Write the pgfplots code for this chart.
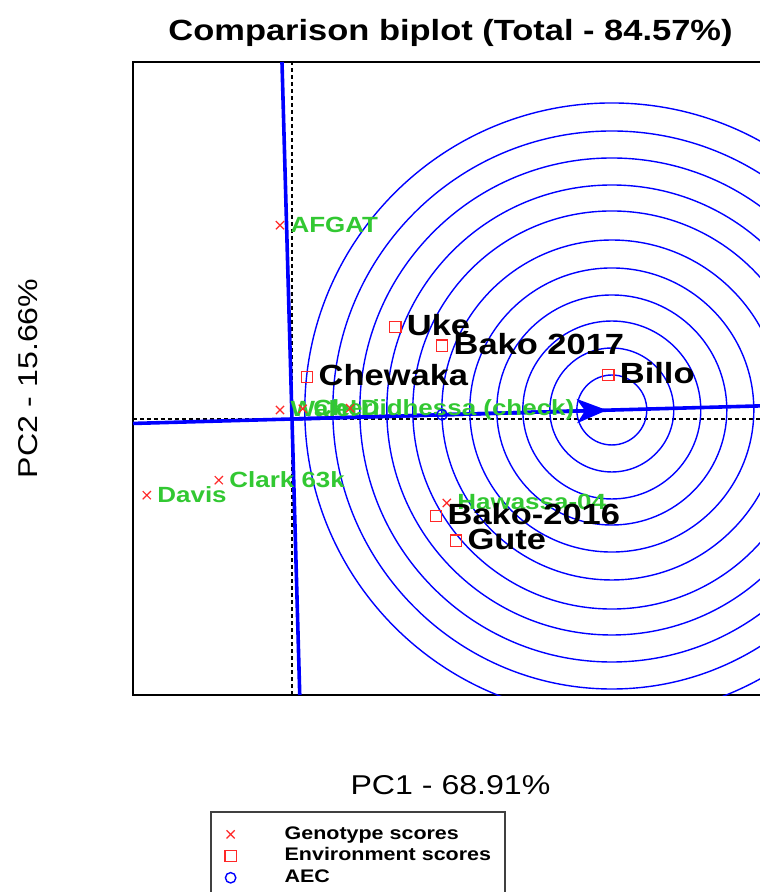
\documentclass[border=0pt]{standalone}
\usepackage{fontspec}
\setmainfont{Liberation Sans}[FakeStretch=1.18]
\usepackage{pgfplots}
\usepackage{pgfplotstable}
\pgfplotsset{compat=1.18}
\usetikzlibrary{arrows.meta}
\definecolor{gcol}{RGB}{50,200,50}
\definecolor{mred}{RGB}{255,40,40}

% Genotype scores
\pgfplotstableread[col sep=comma]{
x,y,label
-0.20,3.23,AFGAT
-2.42,-1.27,Davis
-1.22,-1.02,Clark 63k
-0.20,0.15,Walel
0.18,0.17,Cheri
0.97,0.18,Didhessa (check)
2.58,-1.40,Hawassa-04
}\genotypes

% Environment scores
\pgfplotstableread[col sep=comma]{
x,y,label
1.72,1.53,Uke
2.50,1.22,Bako 2017
0.25,0.70,Chewaka
5.27,0.73,Billo
2.40,-1.62,Bako-2016
2.73,-2.03,Gute
}\environments

\begin{document}
\begin{tikzpicture}
\begin{axis}[
  at={(0,0)}, anchor=south west,
  scale only axis, width=317.5pt, height=316.5pt,
  xmin=-2.65, xmax=7.933, ymin=-4.6, ymax=5.95,
  axis line style={line width=1.2pt},
  ticks=none,
  clip=true,
  title={\fontsize{14.6}{17}\selectfont\bfseries Comparison biplot (Total - 84.57\%)},
  every axis title/.style={at={(axis description cs:0.5,1.046)}, anchor=center},
  xlabel={\fontsize{13.6}{16}\selectfont PC1 - 68.91\%},
  every axis x label/.style={at={(axis description cs:0.5,-0.1422)}, anchor=center},
  ylabel={\fontsize{13.6}{16}\selectfont PC2 - 15.66\%},
  every axis y label/.style={at={(axis description cs:-0.1654,0.5)}, rotate=90, anchor=center},
  legend cell align=left,
  legend image code/.code={\path (0pt,0pt) (15pt,0pt); \draw[#1] plot coordinates {(1pt,0pt)};},
  legend style={at={(axis description cs:0.1213,-0.1833)}, anchor=north west,
    draw=black!75, line width=1pt, inner xsep=7pt, inner ysep=5.75pt,
    font=\fontsize{9.1}{10}\selectfont\bfseries,
    nodes={inner xsep=0pt, inner ysep=0pt, text height=7.75pt, text depth=3.1pt},
    /tikz/every odd column/.append style={column sep=12.5pt}},
]
% genotypes
\addplot[only marks, mark=x, mark size=2.9pt, mark options={mred, line width=0.6pt},
  nodes near coords, point meta=explicit symbolic,
  nodes near coords style={anchor=mid west, inner sep=0pt, xshift=5pt, yshift=-0.8pt, text=gcol,
    font=\fontsize{11}{13}\selectfont\bfseries}]
  table[x=x, y=y, meta=label] {\genotypes};
\addlegendentry{Genotype scores}

% reference dashed lines
\addplot[black, line width=0.6pt, dash pattern=on 2pt off 1.5pt, forget plot] coordinates {(0,-4.6) (0,5.95)};
\addplot[black, line width=0.6pt, dash pattern=on 2pt off 1.5pt, forget plot] coordinates {(-2.65,0) (7.933,0)};

% concentric circles around the ideal environment
\pgfplotsinvokeforeach{0.583,1.033,1.483,1.917,2.367,2.833,3.317,3.75,4.2,4.65,5.117}{
  \draw[blue, line width=0.7pt] (axis cs:5.33,0.15) circle[radius=#1];
}

% AEC abscissa and ordinate
\addplot[blue, line width=1.8pt, forget plot] coordinates {(-2.65,-0.0742) (7.933,0.2221)};
\addplot[blue, line width=1.8pt, forget plot] coordinates {(0.129,-4.6) (-0.167,5.95)};
\addplot[blue, line width=1.8pt, -{Stealth[length=15pt, width=12pt, inset=4pt]}, forget plot] coordinates {(0,0) (5.25,0.147)};

% environments
\addplot[only marks, mark=square, mark size=2.8pt, mark options={mred, line width=0.7pt},
  nodes near coords, point meta=explicit symbolic,
  nodes near coords style={anchor=mid west, inner sep=0pt, xshift=5.5pt, yshift=-1.5pt, text=black,
    font=\fontsize{14.6}{17}\selectfont\bfseries}]
  table[x=x, y=y, meta=label] {\environments};
\addlegendentry{Environment scores}

% average environment
\addplot[only marks, mark=o, mark size=2.6pt, mark options={blue, line width=0.7pt}]
  coordinates {(2.50,0.07)};
\addlegendentry{AEC}
\end{axis}
\pgfresetboundingbox
\path[use as bounding box] (-66.5pt,-98.5pt) rectangle (313pt,347.5pt);
\end{tikzpicture}
\end{document}
